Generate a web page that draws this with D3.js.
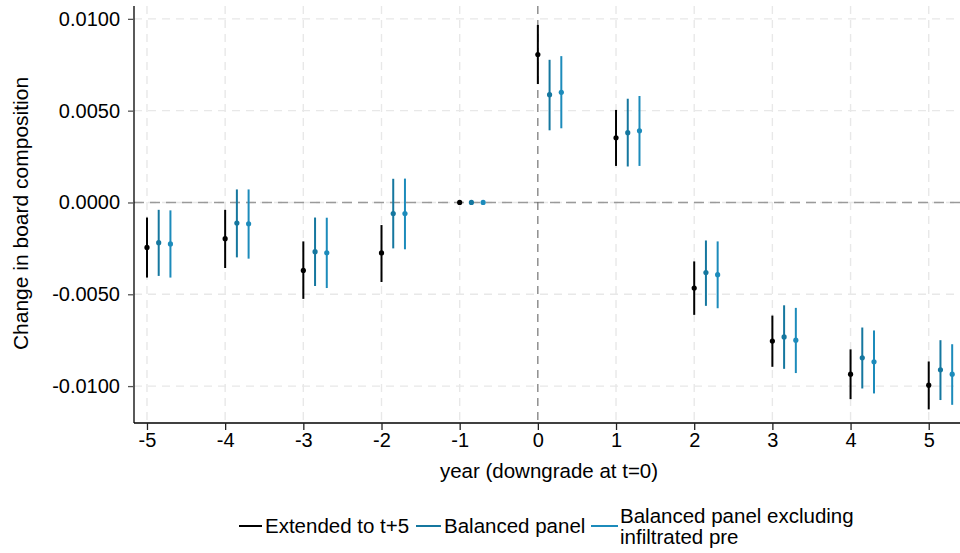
<!DOCTYPE html>
<html>
<head>
<meta charset="utf-8">
<script src="https://cdn.jsdelivr.net/npm/d3@7"></script>
<style>
  html, body { margin: 0; padding: 0; background: #fff; }
  svg { display: block; font-family: "Liberation Sans", Arial, sans-serif; }
</style>
</head>
<body>
<svg id="chart" width="960" height="553"></svg>
<script>
// Event-study estimates with 95% confidence intervals (t = -1 is the reference year)
const years = [-5, -4, -3, -2, -1, 0, 1, 2, 3, 4, 5];

const extEst = [-0.00245, -0.00197, -0.0037, -0.00275, 0, 0.00806, 0.00352, -0.00466, -0.00755, -0.00935, -0.00995];
const extLo  = [-0.00409, -0.00357, -0.00525, -0.00433, null, 0.00645, 0.00199, -0.00612, -0.00895, -0.01071, -0.01127];
const extHi  = [-0.00082, -0.0004, -0.00212, -0.00123, null, 0.00967, 0.00504, -0.00321, -0.00616, -0.008, -0.00866];

const balEst = [-0.00219, -0.00112, -0.00268, -0.0006, 0, 0.00587, 0.0038, -0.00382, -0.00732, -0.00846, -0.00911];
const balLo  = [-0.004, -0.00299, -0.00455, -0.0025, null, 0.00393, 0.00196, -0.00563, -0.00906, -0.01013, -0.01076];
const balHi  = [-0.0004, 0.00071, -0.00082, 0.00129, null, 0.00777, 0.00565, -0.00207, -0.0056, -0.00681, -0.0075];

const exclEst = [-0.00226, -0.00116, -0.00274, -0.0006, 0, 0.006, 0.0039, -0.00393, -0.0075, -0.00868, -0.00935];
const exclLo  = [-0.00409, -0.00306, -0.00466, -0.00255, null, 0.00404, 0.00199, -0.00576, -0.00929, -0.0104, -0.01102];
const exclHi  = [-0.00043, 0.00071, -0.00083, 0.0013, null, 0.00797, 0.0058, -0.00212, -0.00574, -0.00697, -0.00772];

const yTicks = [-0.01, -0.005, 0, 0.005, 0.01];
const seriesNames = ["Extended to t+5", "Balanced panel", "Balanced panel excluding\ninfiltrated pre"];
const seriesColors = ["#000000", "#15779f", "#1c8bbb"];
const seriesOffsets = [0, 0.15, 0.30];

const series = [
  { est: extEst, lo: extLo, hi: extHi },
  { est: balEst, lo: balLo, hi: balHi },
  { est: exclEst, lo: exclLo, hi: exclHi }
].map((s, k) => ({
  name: seriesNames[k], color: seriesColors[k], offset: seriesOffsets[k],
  rows: years.map((yr, i) => ({ year: yr, est: s.est[i], lo: s.lo[i], hi: s.hi[i] }))
}));

const svg = d3.select("#chart");
const plotLeft = 134, plotRight = 960, plotTop = 6, plotBottom = 423;
const fontFamily = "Liberation Sans, Arial, sans-serif";

const x = d3.scaleLinear().domain([-5.166, 5.40]).range([plotLeft, plotRight]);
const y = d3.scaleLinear().domain([-0.01201, 0.0107]).range([plotBottom, plotTop]);

// grid
const grid = svg.append("g");
grid.selectAll("line.gy").data(yTicks).join("line")
  .attr("x1", plotLeft).attr("x2", plotRight)
  .attr("y1", d => y(d)).attr("y2", d => y(d))
  .attr("stroke", "#e8e8e8").attr("stroke-width", 1.4).attr("stroke-dasharray", "8,6");
grid.selectAll("line.gx").data(years).join("line")
  .attr("x1", d => x(d)).attr("x2", d => x(d))
  .attr("y1", plotTop).attr("y2", plotBottom)
  .attr("stroke", "#e8e8e8").attr("stroke-width", 1.4).attr("stroke-dasharray", "8,6");

// reference lines
svg.append("line")
  .attr("x1", plotLeft).attr("x2", plotRight).attr("y1", y(0)).attr("y2", y(0))
  .attr("stroke", "#9a9a9a").attr("stroke-width", 1.5).attr("stroke-dasharray", "10,6");
svg.append("line")
  .attr("x1", x(0)).attr("x2", x(0)).attr("y1", plotTop).attr("y2", plotBottom)
  .attr("stroke", "#666").attr("stroke-width", 1).attr("stroke-dasharray", "8,6");

// axes
const yAxis = d3.axisLeft(y).tickValues(yTicks).tickSize(6).tickPadding(8)
  .tickFormat(d => d3.format(".4f")(d).replace("−", "-"));
const gy = svg.append("g").attr("transform", `translate(${plotLeft},0)`).call(yAxis);
gy.select(".domain").attr("d", `M0,${plotTop}V${plotBottom}`).attr("stroke", "#000").attr("stroke-width", 1.3);
gy.selectAll(".tick line").attr("stroke", "#555").attr("stroke-width", 1.3);
gy.selectAll(".tick text").attr("font-size", 20).attr("fill", "#000").attr("font-family", fontFamily);

const xAxis = d3.axisBottom(x).tickValues(years).tickSize(7).tickPadding(3)
  .tickFormat(d => String(d));
const gx = svg.append("g").attr("transform", `translate(0,${plotBottom})`).call(xAxis);
gx.select(".domain").attr("d", `M${plotLeft},0H${plotRight}`).attr("stroke", "#000").attr("stroke-width", 1.3);
gx.selectAll(".tick line").attr("stroke", "#222").attr("stroke-width", 1.3);
gx.selectAll(".tick text").attr("font-size", 20).attr("fill", "#000").attr("font-family", fontFamily);

// axis titles
svg.append("text")
  .attr("x", 549).attr("y", 478).attr("text-anchor", "middle")
  .attr("font-size", 20.5).attr("fill", "#000")
  .text("year (downgrade at t=0)");
svg.append("text")
  .attr("transform", `translate(28,213.5) rotate(-90)`)
  .attr("text-anchor", "middle").attr("font-size", 21).attr("fill", "#000")
  .text("Change in board composition");

// confidence intervals and point estimates
series.forEach(s => {
  const g = svg.append("g");
  g.selectAll("line").data(s.rows.filter(r => r.lo !== null)).join("line")
    .attr("x1", r => x(r.year + s.offset)).attr("x2", r => x(r.year + s.offset))
    .attr("y1", r => y(r.lo)).attr("y2", r => y(r.hi))
    .attr("stroke", s.color).attr("stroke-width", 2);
  g.selectAll("circle").data(s.rows).join("circle")
    .attr("cx", r => x(r.year + s.offset)).attr("cy", r => y(r.est))
    .attr("r", 2.6).attr("fill", s.color);
});

// legend
const legend = svg.append("g");
const legendItems = [
  { x: 239, w: 23, tx: 265 },
  { x: 416, w: 25, tx: 444 },
  { x: 591, w: 27, tx: 620 }
];
legendItems.forEach((it, k) => {
  legend.append("line")
    .attr("x1", it.x).attr("x2", it.x + it.w).attr("y1", 526).attr("y2", 526)
    .attr("stroke", seriesColors[k]).attr("stroke-width", 2);
  const lines = seriesNames[k].split("\n");
  const t = legend.append("text").attr("font-size", 20.5).attr("fill", "#000");
  if (lines.length === 1) {
    t.append("tspan").attr("x", it.tx).attr("y", 533).text(lines[0]);
  } else {
    lines.forEach((ln, j) => t.append("tspan").attr("x", it.tx).attr("y", 523 + j * 21).text(ln));
  }
});
</script>
</body>
</html>
